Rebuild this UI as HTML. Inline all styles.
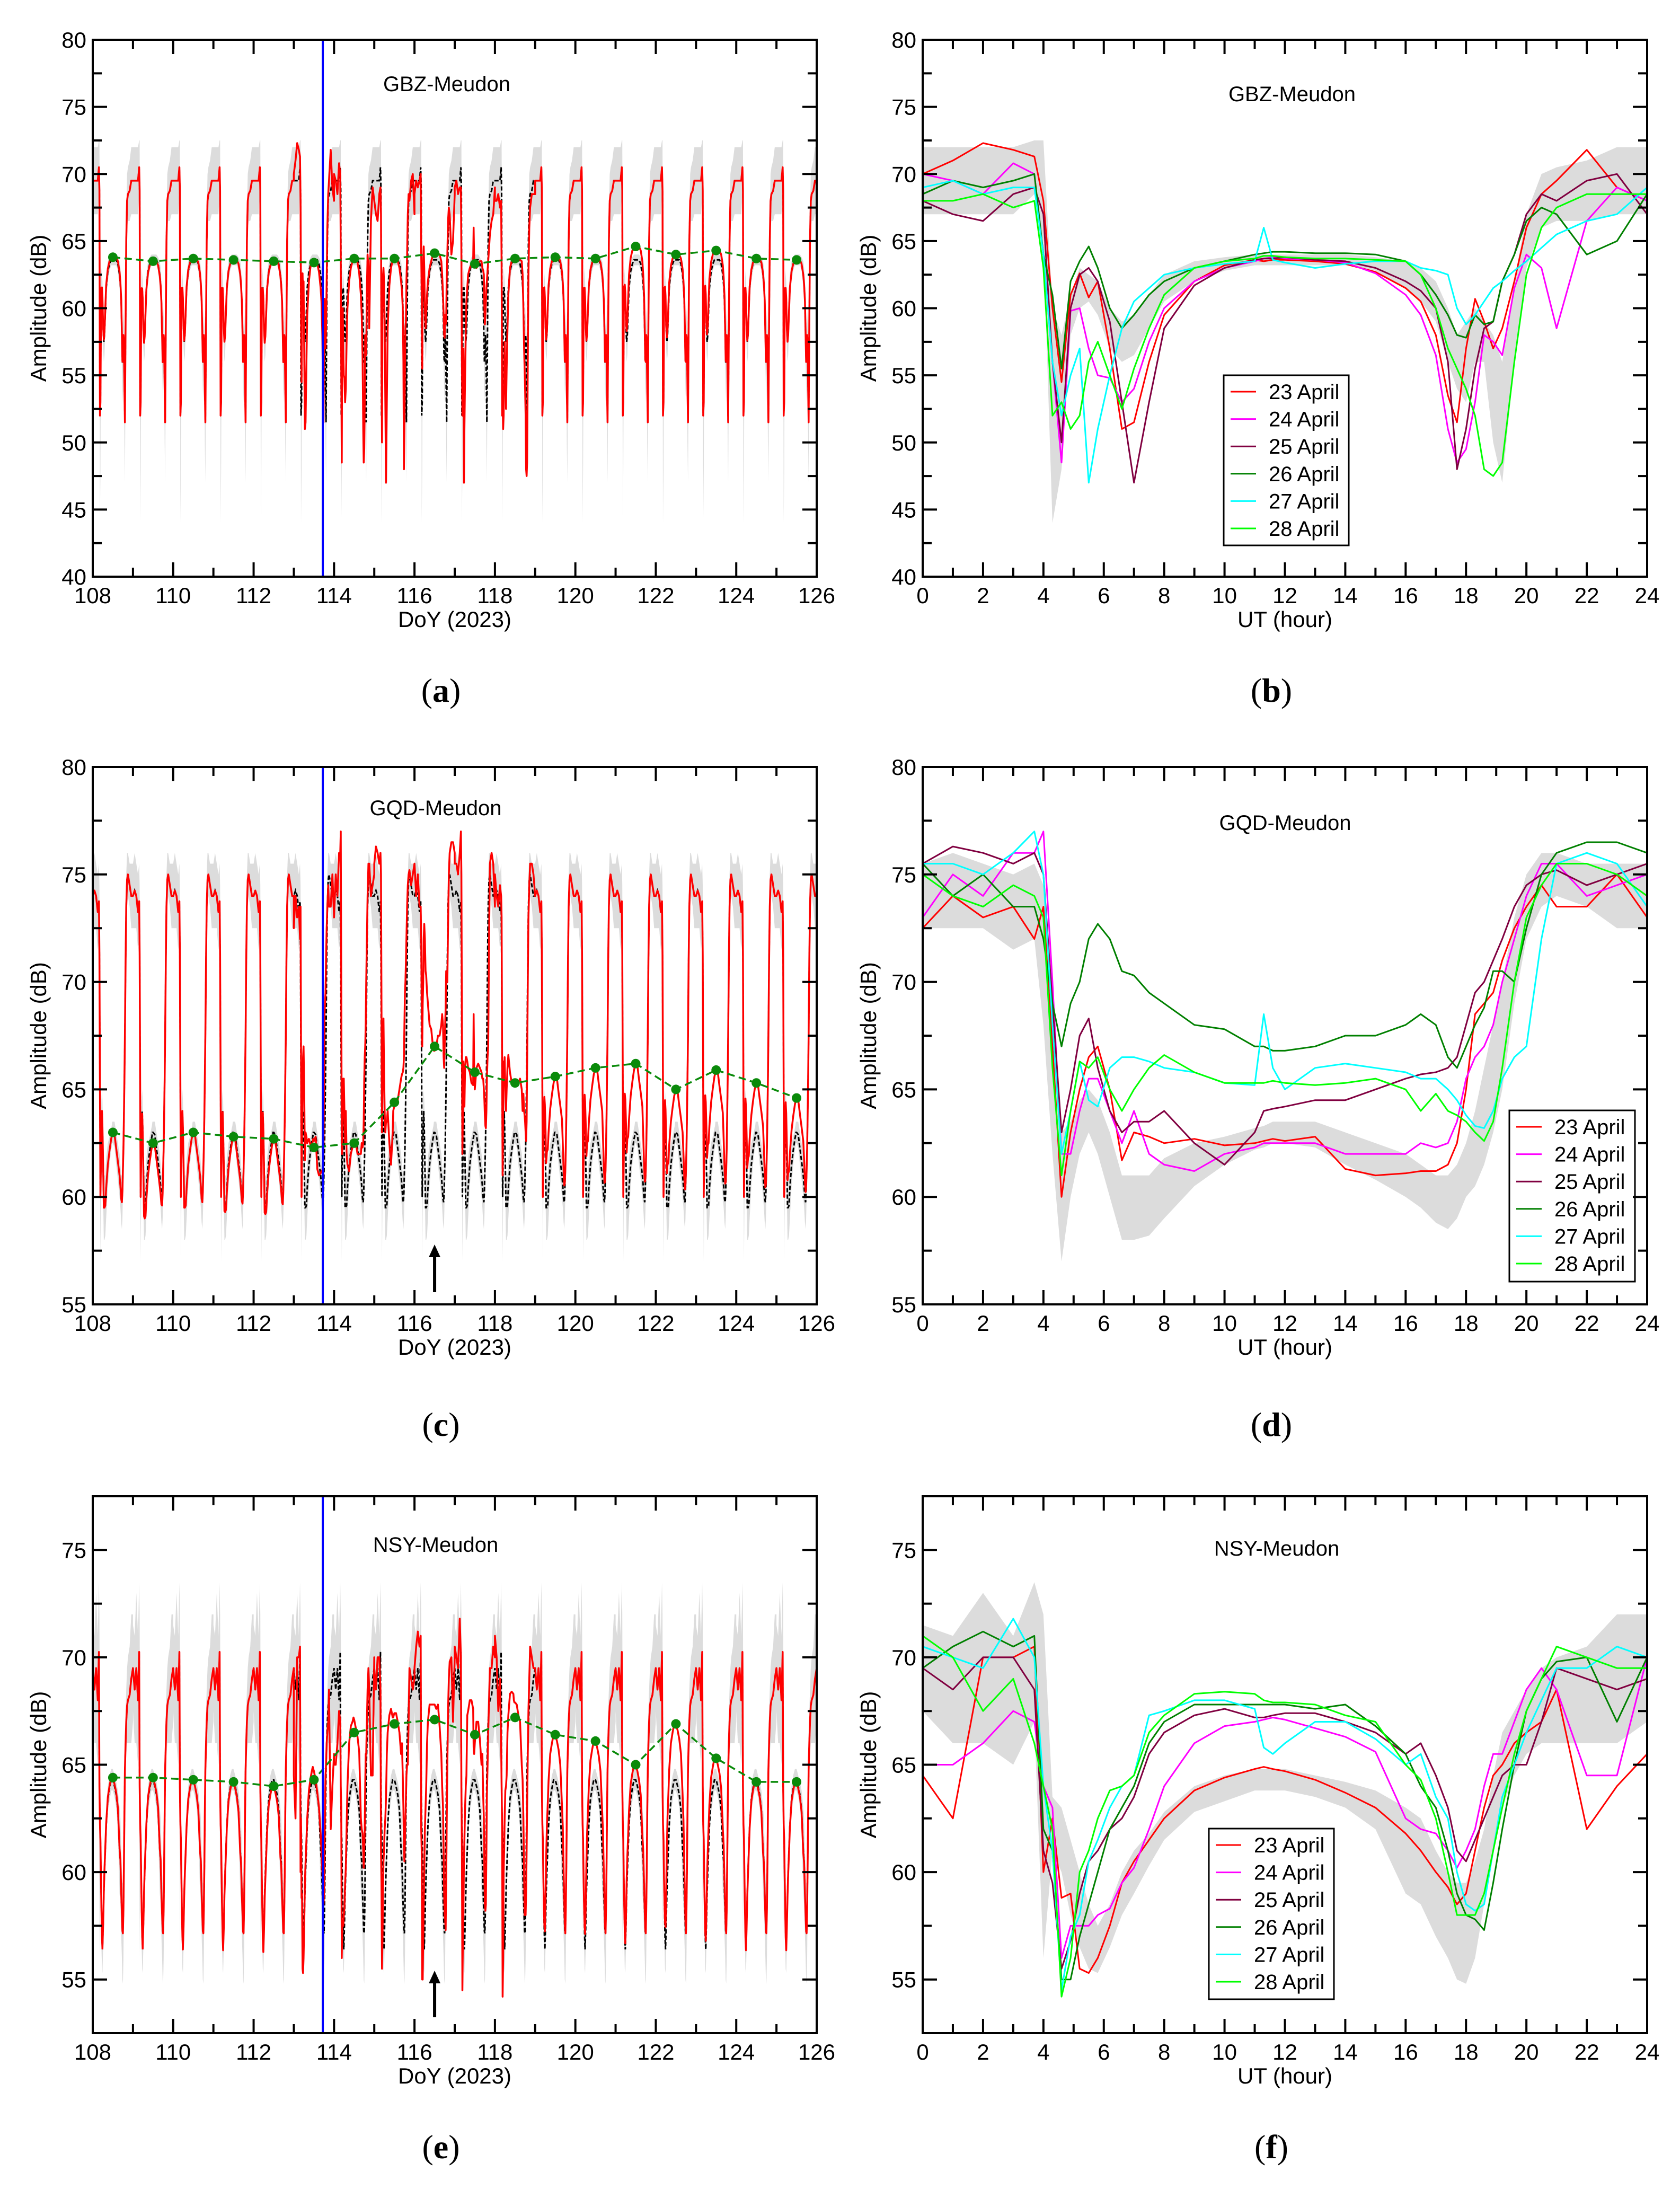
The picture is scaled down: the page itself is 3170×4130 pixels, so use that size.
<!DOCTYPE html>
<html><head><meta charset="utf-8"><title>VLF amplitude panels</title>
<style>
html,body{margin:0;padding:0;background:#fff;}
svg{display:block;}
text{font-family:"Liberation Sans",sans-serif;fill:#000;}
</style></head>
<body>
<svg id="fig" xmlns="http://www.w3.org/2000/svg" width="3170" height="4130" viewBox="0 0 3170 4130"></svg>
<script>
// ---------- shared UT grid (hours) ----------
const G=[0,1,2,3,3.7,4,4.3,4.6,4.9,5.2,5.5,5.8,6.2,6.6,7,7.5,8,9,10,11,11.3,11.6,12,13,14,15,16,16.5,17,17.4,17.7,18,18.3,18.6,18.9,19.2,19.6,20,20.5,21,22,23,24];
const dates=["23 April","24 April","25 April","26 April","27 April","28 April"];
const colors=["#ff0000","#ff00ff","#800040","#008000","#00ffff","#00ff00"];
const doys=[108,109,110,111,112,113,114,115,116,117,118,119,120,121,122,123,124,125];
const xTicksDoy=[108,110,112,114,116,118,120,122,124,126];
const xTicksUT=[0,2,4,6,8,10,12,14,16,18,20,22,24];

// ---------- GBZ (a,b) ----------
const bandLoB=[67,67,67,67,68.5,65,44,48,58,60,60.5,59.5,57,56,56.5,58.5,60.5,62,62.8,63.2,63.2,63.2,63.2,63.2,63.2,62.8,61.5,60.5,59,56,54,53,56,56,50,47,56,63,66,66.5,66.5,67,67];
const bandHiB=[72,72,72,72,72.5,72.5,60,58,61,63,62.5,62,60,59,59.5,61,62.5,63.5,63.8,64,64,64,64,64,64,63.8,63.5,63,62,60,58,59,60,59,58,56,62,67,70,70.5,71,72,72];
const b23=[70,71,72.3,71.8,71.3,68,60,54.5,61,62.6,60.8,62,57,51,51.5,56,59.5,62,63.2,63.6,63.5,63.6,63.6,63.5,63.3,62.7,61.5,60.5,58,53.5,51.5,57,60.7,59,57,58.5,62,66,68.5,69.5,71.8,69,68];
const b24=[70,69.5,68.5,70.8,70,64,56,48.5,59.8,60,57,55,54.8,53,54,57.5,60,62,63,63.5,63.7,63.8,63.7,63.6,63.4,62.6,61,59.5,56.5,51,48.5,49.5,53,58,57.5,56.5,61.5,64,63,58.5,66.5,69,68];
const b25=[68,67,66.5,68.5,69,67,56,50,60,62.5,63,62,59,53,47,53,58.5,61.7,63,63.6,63.7,63.7,63.8,63.6,63.5,63,62,61.3,60,56,48,51,55.5,58.5,59,62,64,67,68.5,68,69.5,70,67];
const b26=[68.5,69.5,69,69.5,70,64,61,55.5,62,63.5,64.6,63,60,58.5,59.5,61,62,63,63.5,64,64.1,64.2,64.2,64.1,64.1,64,63.5,62.5,61,59.5,58,57.8,59.5,58.8,59,62,64,66.5,67.5,67,64,65,68.5];
const b27=[69,69.5,68.5,69,69,64,56,52,55,57,47,51,55,58.5,60.5,61.5,62.5,63,63.3,63.5,66,63.6,63.4,63,63.3,63.5,63.5,63,62.8,62.5,60,58.8,59.5,60.5,61.5,62,62.8,63.5,64.5,65.5,66.5,67,69];
const b28=[68,68,68.5,67.5,68,63,52,53,51,52,56,57.5,55,52.5,55.5,58.5,61,63,63.5,63.7,63.9,63.9,63.8,63.7,63.7,63.6,63.5,62.5,60,57,55.5,54,52,48,47.5,48.5,56,62.5,66,67.5,68.5,68.5,68.5];
const dotsA=[63.8,63.5,63.7,63.6,63.5,63.4,63.7,63.7,64.1,63.3,63.7,63.8,63.7,64.6,64.0,64.3,63.7,63.6];

// ---------- GQD (c,d) ----------
const bandLoD=[72.5,72.5,72.5,71.5,72,68,62,57,60,62,63,62,60,58,58,58.2,59,60.5,61.5,62.2,62.3,62.5,62.5,62.3,61.5,60.8,60,59.5,58.8,58.5,59,60,60.5,61.5,63,65,69,72,73.5,74,73.5,72.5,72.5];
const bandHiD=[75.5,76,75.5,75,75.5,74.5,68,63,63.5,64.5,65,64.5,63,61,61,61,61.8,62.5,62.8,63.2,63.3,63.5,63.5,63.5,63,62.5,62,61.5,61,61,61.5,62.5,64,66,68,70,73,75,76,76,75.5,75.5,75.5];
const d23=[72.5,74,73,73.5,72,73.5,67,60,63,65,66.5,67,65,61.7,63,62.8,62.5,62.7,62.4,62.5,62.6,62.7,62.6,62.8,61.3,61,61.1,61.2,61.2,61.5,62.5,65,68.5,69,69.5,71,72.5,73.5,74.5,73.5,73.5,75,73];
const d24=[73,75,74,76,76,77,70,62,62,64,65.5,65.5,64,62.5,64,62,61.5,61.2,62,62.3,62.5,62.5,62.5,62.5,62,62,62,62.5,62.3,62.5,63.5,65.5,66.5,67,68,70,72,74,75.5,75.5,74,74.5,75];
const d25=[75.5,76.3,76,75.5,76,75,69,63,65,67.5,68.3,66,64,63,63.5,63.5,64,62.5,61.5,63,64,64.1,64.2,64.5,64.5,65,65.5,65.7,65.8,66,66.5,68,69.5,70,71,72,73.5,74.5,75,75.2,74.5,75,75.5];
const d26=[75.5,74,75,73.5,73.5,72,69,67,69,70,72,72.7,72,70.5,70.3,69.5,69,68,67.8,67,67,66.8,66.8,67,67.5,67.5,68,68.5,68,66.5,66,67,68,68.8,70.5,70.5,70,72.5,75,76,76.5,76.5,76];
const d27=[75.5,75.5,75,76,77,75,68,62,64,66.3,64.5,64.2,66,66.5,66.5,66.3,66,65.8,65.3,65.2,68.5,66,65,66,66.2,66,65.8,65.5,65.5,65,64.5,63.8,63.3,63.2,64,65.5,66.5,67,72,75.5,76,75.5,73.5];
const d28=[75,74,73.5,74.5,74,73,66,61,64,66.3,66,66.5,65,64,65,66,66.6,65.8,65.3,65.3,65.3,65.4,65.3,65.2,65.3,65.5,65,64,64.8,64,63.8,63.5,63,62.6,63.5,66,70,73,74.5,75.5,75.5,75,74];
const dotsC=[63.0,62.5,63.0,62.8,62.7,62.3,62.5,64.4,67.0,65.8,65.3,65.6,66.0,66.2,65.0,65.9,65.3,64.6];

// ---------- NSY (e,f) ----------
const bandLoF=[67.5,66,66,65,67,56,61,60,58,56.5,55.5,55.3,56.5,58,59,60.3,61.5,62.8,63.3,63.8,63.8,63.8,63.8,63.5,63,62,59,58.5,57,56,55,54.8,56,58.5,61,63,64.5,65.5,66,66,66,66,67];
const bandHiF=[71.5,71,73,71,73.5,72,63.5,63,61.5,60,58.5,57.5,58.5,60,61,61.8,62.8,64,64.5,64.8,64.8,64.8,64.8,64.5,64.2,63.8,63,62.5,61,60,59.5,59.5,60.5,62,64.5,66.5,67.5,68.5,69.5,70,70.5,72,72];
const f23=[64.5,62.5,70,70,70.5,60,62.5,58.8,59,55.5,55.3,56,57.5,59.5,60.5,61.5,62.5,63.8,64.4,64.8,64.9,64.8,64.7,64.3,63.7,63,61.8,61,60,59.3,58.5,59,61,63,64.5,65,66,66.5,67,68.5,62,64,65.5];
const f24=[65,65,66,67.5,67,64,63,56,57.5,57.5,57.5,58,58.3,59.5,60.2,62,64,66,66.8,67,67.1,67.2,67.1,66.7,66.3,65.6,62.5,62,61.8,61,60.2,61,62,64,65.5,65.5,67,68.5,69.5,68.5,64.5,64.5,70];
const f25=[69.5,68.5,70,70,68.5,61,59.5,55.5,56.8,59,60.5,61,62,62.5,63.5,65.5,66.5,67.3,67.6,67.2,67.2,67.3,67.4,67.4,67,66.5,65.5,66,64.5,63,61,60.5,61.5,62.5,63.5,64.5,65,65,67,69.5,69,68.5,69];
const f26=[69.5,70.5,71.2,70.5,71,62,61,55,55,57,58.5,60,62,63,64,66,67,67.8,67.8,67.8,67.8,67.8,67.8,67.6,67.8,66.8,65.5,64,63,61,59,58,57.8,57.3,59.5,62,65,67.5,69,69.8,70,67,70];
const f27=[70.5,70,69.5,71.8,70,64,61,54.5,57,58,60.5,61.5,63,64,64.5,67.3,67.5,68,68,67.6,65.8,65.5,66,67,67,66.2,65,65.5,63.5,62.5,60,58.5,58.2,58.5,61,63.5,65,66.5,68,69.5,69.5,70.5,70];
const f28=[71,70,67.5,69,66,64,62,54.2,56,60,61,62.5,63.8,64,64.5,66.5,67.3,68.3,68.4,68.3,68,67.9,67.9,67.8,67.3,67,65,64.3,62.5,60,58,58,58,59,61,63,65.5,67.5,69,70.5,70,69.5,69.5];
const dotsE=[64.4,64.4,64.3,64.2,64.0,64.3,66.5,66.9,67.1,66.4,67.2,66.4,66.1,65.0,66.9,65.3,64.2,64.2];

// ---------- drawing ----------
const NS="http://www.w3.org/2000/svg";
const svg=document.getElementById("fig");
function el(tag,attrs,parent,txt){const e=document.createElementNS(NS,tag);for(const k in attrs)e.setAttribute(k,attrs[k]);if(txt!==undefined)e.textContent=txt;(parent||svg).appendChild(e);return e;}

function makePanel(c){
  const g=el("g",{});
  
  
  c.sx=v=>c.x0+(v-c.xmin)/(c.xmax-c.xmin)*(c.x1-c.x0);
  c.sy=v=>c.y1-(v-c.ymin)/(c.ymax-c.ymin)*(c.y1-c.y0);
  const cid="clip-"+c.name;
  const cp=el("clipPath",{id:cid},g);
  el("rect",{x:c.x0,y:c.y0,width:c.x1-c.x0,height:c.y1-c.y0},cp);
  c.g=g;
  c.plot=el("g",{"clip-path":"url(#"+cid+")"},g);
  
  
  return c;
}
function drawAxes(c,xTicks,xMinor,yTicks,yMinor,xlabel){
  const g=c.g;
  const ax=el("g",{},g);
  
  
  el("rect",{x:c.x0,y:c.y0,width:c.x1-c.x0,height:c.y1-c.y0,fill:"none",stroke:"#000","stroke-width":4},ax);
  const M=27,m=17;
  xMinor.forEach(v=>{const x=c.sx(v);
    el("line",{x1:x,x2:x,y1:c.y1,y2:c.y1-m,stroke:"#000","stroke-width":4},ax);
    el("line",{x1:x,x2:x,y1:c.y0,y2:c.y0+m,stroke:"#000","stroke-width":4},ax);});
  xTicks.forEach(v=>{const x=c.sx(v);
    el("line",{x1:x,x2:x,y1:c.y1,y2:c.y1-M,stroke:"#000","stroke-width":4},ax);
    el("line",{x1:x,x2:x,y1:c.y0,y2:c.y0+M,stroke:"#000","stroke-width":4},ax);
    const t=el("text",{x:x,y:c.y1+50,"font-size":42,"text-anchor":"middle"},ax,String(v));
    
    });
  yMinor.forEach(v=>{const y=c.sy(v);
    el("line",{x1:c.x0,x2:c.x0+m,y1:y,y2:y,stroke:"#000","stroke-width":4},ax);
    el("line",{x1:c.x1,x2:c.x1-m,y1:y,y2:y,stroke:"#000","stroke-width":4},ax);});
  yTicks.forEach(v=>{const y=c.sy(v);
    el("line",{x1:c.x0,x2:c.x0+M,y1:y,y2:y,stroke:"#000","stroke-width":4},ax);
    el("line",{x1:c.x1,x2:c.x1-M,y1:y,y2:y,stroke:"#000","stroke-width":4},ax);
    const t=el("text",{x:c.x0-12,y:y+15,"font-size":42,"text-anchor":"end"},ax,String(v));
    
    });
  const xl=el("text",{x:(c.x0+c.x1)/2,y:c.y1+95,"font-size":42,"text-anchor":"middle"},g,xlabel);
  
  
  const yc=(c.y0+c.y1)/2, yx=c.x0-88;
  const yl=el("text",{x:yx,y:yc,"font-size":42,"text-anchor":"middle",transform:"rotate(-90 "+yx+" "+yc+")"},g,"Amplitude (dB)");
  
  
  const tt=el("text",{x:c.tx,y:c.ty+14,"font-size":40,"text-anchor":"middle"},g,c.title);
  
  
  const pl=el("text",{x:c.lx,y:c.ly+22,"font-size":64,"text-anchor":"middle","style":"font-family:'Liberation Serif',serif"},g);
  
  
  el("tspan",{},pl,"(");el("tspan",{"font-weight":"bold"},pl,c.letter);el("tspan",{},pl,")");
}
function range(a,b,s){const r=[];for(let v=a;v<=b+1e-9;v+=s)r.push(+v.toFixed(3));return r;}
function pts(c,xs,ys){return xs.map((x,i)=>c.sx(x).toFixed(1)+","+c.sy(ys[i]).toFixed(1)).join(" ");}
function mid(lo,hi){return lo.map((v,i)=>(v+hi[i])/2);}

function drawRight(c,lo,hi,series,leg){
  const band=el("polygon",{points:pts(c,G,hi)+" "+pts(c,G.slice().reverse(),lo.slice().reverse()),fill:"#dcdcdc",stroke:"none"},c.plot);
  
  
  series.forEach((s,k)=>{
    const p=el("polyline",{points:pts(c,G,s),fill:"none",stroke:colors[k],"stroke-width":3,"stroke-linejoin":"round"},c.plot);
    
    
  });
  const lg=el("g",{},c.g);
  
  
  el("rect",{x:leg.x,y:leg.y,width:leg.w,height:leg.h,fill:"#fff",stroke:"#000","stroke-width":3},lg);
  dates.forEach((d,k)=>{
    const yy=leg.y+leg.first+k*leg.step;
    const en=el("g",{},lg);
    
    
    el("line",{x1:leg.x+13,x2:leg.x+61,y1:yy,y2:yy,stroke:colors[k],"stroke-width":3},en);
    el("text",{x:leg.x+85,y:yy+14,"font-size":40},en,d);
  });
}
function dayWeight(h){if(h<=5||h>=18)return 0;if(h<7)return (h-5)/2;if(h>16)return (18-h)/2;return 1;}
function drawLeft(c,lo,hi,series,dots,arrow){
  const quiet=mid(lo,hi);
  const q12=quiet[G.indexOf(12)];
  let up=[],dn=[],qx=[],qy=[];
  doys.forEach(d=>{G.forEach((h,i)=>{const x=d+h/24;up.push([x,hi[i]]);dn.push([x,lo[i]]);qx.push(x);qy.push(quiet[i]);});});
  const bandPts=up.map(p=>c.sx(p[0]).toFixed(1)+","+c.sy(p[1]).toFixed(1)).join(" ")+" "+dn.reverse().map(p=>c.sx(p[0]).toFixed(1)+","+c.sy(p[1]).toFixed(1)).join(" ");
  const band=el("polygon",{points:bandPts,fill:"#dcdcdc"},c.plot);
  
  
  const ql=el("polyline",{points:pts(c,qx,qy),fill:"none",stroke:"#000","stroke-width":3,"stroke-dasharray":"8,4"},c.plot);
  
  
  let rx=[],ry=[];
  doys.forEach((d,k)=>{
    const ev=d-113;
    G.forEach((h,i)=>{rx.push(d+h/24);
      if(ev>=0&&ev<series.length) ry.push(series[ev][i]);
      else ry.push(quiet[i]+dayWeight(h)*(dots[k]-q12));});
  });
  const rl=el("polyline",{points:pts(c,rx,ry),fill:"none",stroke:"#ff0000","stroke-width":3.5,"stroke-linejoin":"round"},c.plot);
  
  
  const dx=doys.map(d=>d+0.5);
  const gl=el("polyline",{points:pts(c,dx,dots),fill:"none",stroke:"#0a8a0a","stroke-width":3.5,"stroke-dasharray":"14,8"},c.plot);
  
  
  dots.forEach((v,k)=>{
    const cc=el("circle",{cx:c.sx(dx[k]),cy:c.sy(v),r:9,fill:"#0a8a0a"},c.plot);
    
    
  });
  const bx=c.sx(113.72);
  const bl=el("line",{x1:bx,x2:bx,y1:c.y0,y2:c.y1,stroke:"#0000ff","stroke-width":4},c.g);
  
  
  if(arrow){
    const ax=c.sx(116.5);
    const ag=el("g",{},c.g);
    
    
    el("line",{x1:ax,x2:ax,y1:arrow.y2,y2:arrow.y1+20,stroke:"#000","stroke-width":6},ag);
    el("polygon",{points:(ax-11)+","+(arrow.y1+24)+" "+(ax+11)+","+(arrow.y1+24)+" "+ax+","+arrow.y1,fill:"#000"},ag);
  }
}

const L={x0:175,x1:1541}, R={x0:1741,x1:3108};
const rows=[{y0:75,y1:1088,ymin:40,ymax:80,yt:range(40,80,5),ym:range(42.5,77.5,5)},
            {y0:1447,y1:2461,ymin:55,ymax:80,yt:range(55,80,5),ym:range(57.5,77.5,5)},
            {y0:2823,y1:3836,ymin:52.5,ymax:77.5,yt:range(55,75,5),ym:range(52.5,77.5,5)}];

const pa=makePanel({name:"panel-a",x0:L.x0,x1:L.x1,y0:rows[0].y0,y1:rows[0].y1,xmin:108,xmax:126,ymin:40,ymax:80,title:"GBZ-Meudon",tx:843,ty:158,letter:"a",lx:832,ly:1302});
drawLeft(pa,bandLoB,bandHiB,[b23,b24,b25,b26,b27,b28],dotsA,null);
drawAxes(pa,xTicksDoy,range(109,125,2),rows[0].yt,rows[0].ym,"DoY (2023)");

const pb=makePanel({name:"panel-b",x0:R.x0,x1:R.x1,y0:rows[0].y0,y1:rows[0].y1,xmin:0,xmax:24,ymin:40,ymax:80,title:"GBZ-Meudon",tx:2438,ty:177,letter:"b",lx:2399,ly:1302});
drawRight(pb,bandLoB,bandHiB,[b23,b24,b25,b26,b27,b28],{x:2309,y:708,w:236,h:321,first:31,step:51.6});
drawAxes(pb,xTicksUT,range(1,23,2),rows[0].yt,rows[0].ym,"UT (hour)");

const pc=makePanel({name:"panel-c",x0:L.x0,x1:L.x1,y0:rows[1].y0,y1:rows[1].y1,xmin:108,xmax:126,ymin:55,ymax:80,title:"GQD-Meudon",tx:822,ty:1524,letter:"c",lx:832,ly:2687});
drawLeft(pc,bandLoD,bandHiD,[d23,d24,d25,d26,d27,d28],dotsC,{y1:2348,y2:2438});
drawAxes(pc,xTicksDoy,range(109,125,2),rows[1].yt,rows[1].ym,"DoY (2023)");

const pd=makePanel({name:"panel-d",x0:R.x0,x1:R.x1,y0:rows[1].y0,y1:rows[1].y1,xmin:0,xmax:24,ymin:55,ymax:80,title:"GQD-Meudon",tx:2425,ty:1552,letter:"d",lx:2399,ly:2687});
drawRight(pd,bandLoD,bandHiD,[d23,d24,d25,d26,d27,d28],{x:2848,y:2095,w:237,h:323,first:31,step:51.6});
drawAxes(pd,xTicksUT,range(1,23,2),rows[1].yt,rows[1].ym,"UT (hour)");

const pe=makePanel({name:"panel-e",x0:L.x0,x1:L.x1,y0:rows[2].y0,y1:rows[2].y1,xmin:108,xmax:126,ymin:52.5,ymax:77.5,title:"NSY-Meudon",tx:822,ty:2914,letter:"e",lx:832,ly:4050});
drawLeft(pe,bandLoF,bandHiF,[f23,f24,f25,f26,f27,f28],dotsE,{y1:3718,y2:3806});
drawAxes(pe,xTicksDoy,range(109,125,2),rows[2].yt,rows[2].ym,"DoY (2023)");

const pf=makePanel({name:"panel-f",x0:R.x0,x1:R.x1,y0:rows[2].y0,y1:rows[2].y1,xmin:0,xmax:24,ymin:52.5,ymax:77.5,title:"NSY-Meudon",tx:2409,ty:2921,letter:"f",lx:2399,ly:4050});
drawRight(pf,bandLoF,bandHiF,[f23,f24,f25,f26,f27,f28],{x:2281,y:3450,w:236,h:322,first:31,step:51.6});
drawAxes(pf,xTicksUT,range(1,23,2),rows[2].yt,rows[2].ym,"UT (hour)");
</script>
</body></html>
